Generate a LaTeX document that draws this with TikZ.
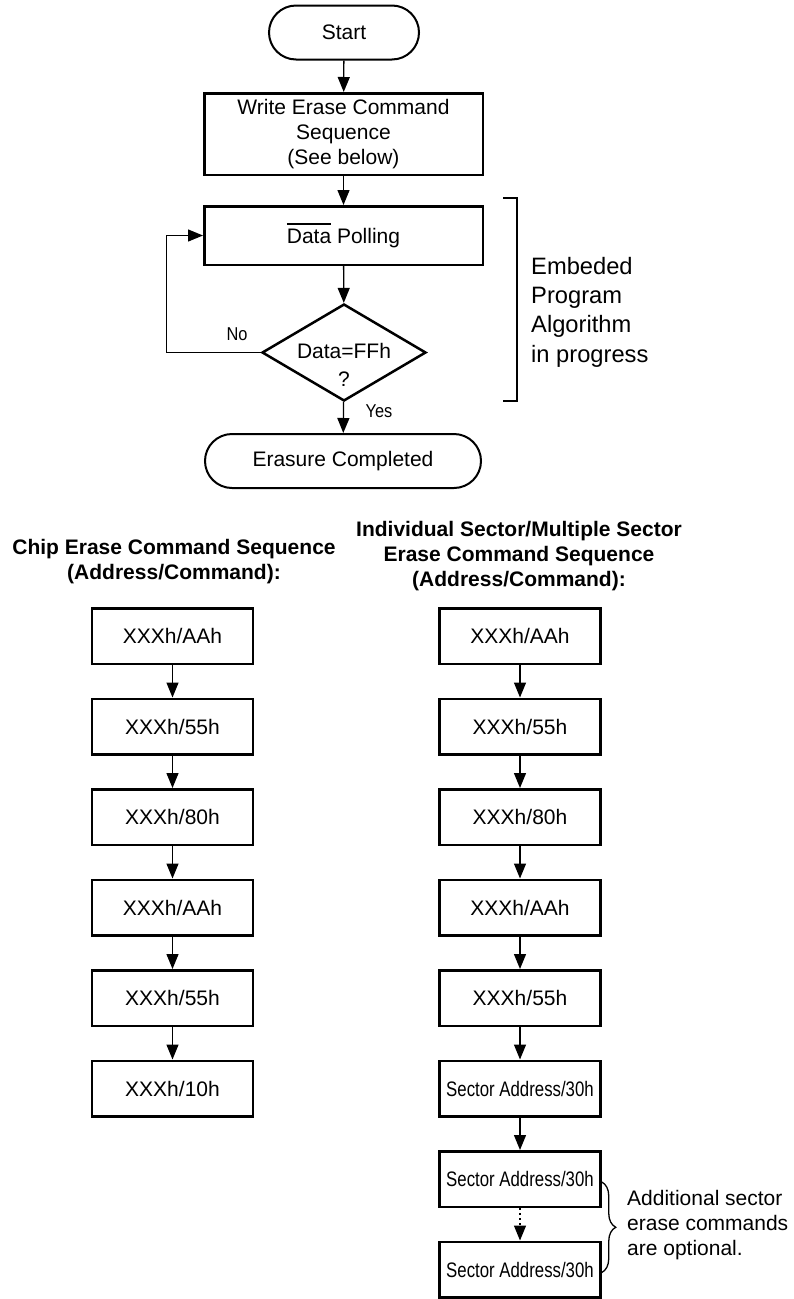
\documentclass[tikz,border=0pt]{standalone}
\usepackage{fontspec}
\setmainfont{Liberation Sans}
\usepackage{graphicx}
\usetikzlibrary{arrows.meta,shapes.geometric,decorations.pathreplacing}
\newcommand\ovline[1]{\leavevmode\vbox{\hrule height 1.3pt\kern 4.5pt\hbox{#1}}}
\newcommand\nrw[1]{\scalebox{0.8}[1]{#1}}
\newcommand\lbl[1]{\scalebox{0.88}[1]{#1}}
\begin{document}
\begin{tikzpicture}[x=1pt,y=-1pt,
  every node/.style={font=\fontsize{21pt}{25pt}\selectfont, inner sep=0pt, align=center, text=black},
  terminal/.style={draw, line width=2pt, rectangle, rounded corners=27pt, minimum height=54pt},
  stepbox/.style={draw, line width=2.5pt, rectangle, minimum width=278.5pt},
  cmdbox/.style={draw, line width=2.5pt, rectangle, minimum width=161pt, minimum height=55.5pt},
  decision/.style={draw, line width=2.5pt, diamond, minimum width=164pt, minimum height=97pt},
  conn/.style={line width=1.3pt, -{Triangle[length=15pt,width=12pt]}},
  thinline/.style={line width=1.3pt},
  smalllbl/.style={font=\fontsize{18.6pt}{22pt}\selectfont},
  header/.style={font=\fontsize{21pt}{25pt}\selectfont\bfseries},
  note/.style={font=\fontsize{23.7pt}{29.3pt}\selectfont, align=left},
  sidenote/.style={font=\fontsize{21pt}{25pt}\selectfont, align=left}
]
\useasboundingbox (0,0) rectangle (793,1299);

% ---- main flowchart ----
\node[terminal, minimum width=150pt] (start) at (344,32.5) {Start};
\node[stepbox, minimum height=81.5pt] (write) at (343.5,134) {Write Erase Command\\Sequence\\(See below)};
\node[stepbox, minimum height=58.5pt] (poll) at (343.5,235.5) {\ovline{Data} Polling};
\node[decision] (dec) at (344,352.5) {};
\node[font=\fontsize{21pt}{28pt}\selectfont] (dectext) at (344,365) {Data=FFh\\?};
\node[terminal, minimum width=276pt] (done) at (343,461) {Erasure Completed};

\draw[conn] (start) -- (write);
\draw[conn] (write) -- (poll);
\draw[conn] (poll) -- (dec);
\draw[conn] (dec) -- (done);
\draw[conn] (dec.west) -- ++(-94,0) |- (poll.west);

\node[smalllbl] (nolbl) at (237,334) {\lbl{No}};
\node[smalllbl] (yeslbl) at (379,411) {\lbl{Yes}};

% bracket
\coordinate (brt) at (503,198);
\coordinate (brb) at (503,401);
\draw[thinline] (brt) -- ++(14,0) |- (brb);
\node[note, anchor=west] (emb) at (531,312) {Embeded\\Program\\Algorithm\\in progress};

% ---- headers ----
\node[header] (hl) at (174,561.5) {Chip Erase Command Sequence\\(Address/Command):};
\node[header] (hr) at (519,556) {Individual Sector/Multiple Sector\\Erase Command Sequence\\(Address/Command):};

% ---- left column ----
\node[cmdbox] (l1) at (172.5,636) {XXXh/AAh};
\node[cmdbox] (l2) at (172.5,726.5) {XXXh/55h};
\node[cmdbox] (l3) at (172.5,817) {XXXh/80h};
\node[cmdbox] (l4) at (172.5,907.5) {XXXh/AAh};
\node[cmdbox] (l5) at (172.5,998) {XXXh/55h};
\node[cmdbox] (l6) at (172.5,1088.5) {XXXh/10h};
\draw[conn] (l1) -- (l2);
\draw[conn] (l2) -- (l3);
\draw[conn] (l3) -- (l4);
\draw[conn] (l4) -- (l5);
\draw[conn] (l5) -- (l6);

% ---- right column ----
\node[cmdbox] (r1) at (520,636) {XXXh/AAh};
\node[cmdbox] (r2) at (520,726.5) {XXXh/55h};
\node[cmdbox] (r3) at (520,817) {XXXh/80h};
\node[cmdbox] (r4) at (520,907.5) {XXXh/AAh};
\node[cmdbox] (r5) at (520,998) {XXXh/55h};
\node[cmdbox] (r6) at (520,1088.5) {\nrw{Sector Address/30h}};
\node[cmdbox] (r7) at (520,1179) {\nrw{Sector Address/30h}};
\node[cmdbox] (r8) at (520,1269.5) {\nrw{Sector Address/30h}};
\draw[conn] (r1) -- (r2);
\draw[conn] (r2) -- (r3);
\draw[conn] (r3) -- (r4);
\draw[conn] (r4) -- (r5);
\draw[conn] (r5) -- (r6);
\draw[conn] (r6) -- (r7);
\draw[conn, dash pattern=on 2pt off 3pt] (r7) -- (r8);

\draw[thinline, decorate, decoration={brace, amplitude=14pt}] ([yshift=-3pt]r7.east) -- ([yshift=-3pt]r8.east);
\node[sidenote, anchor=west] (opt) at (627,1225) {Additional sector\\erase commands\\are optional.};
\end{tikzpicture}
\end{document}
